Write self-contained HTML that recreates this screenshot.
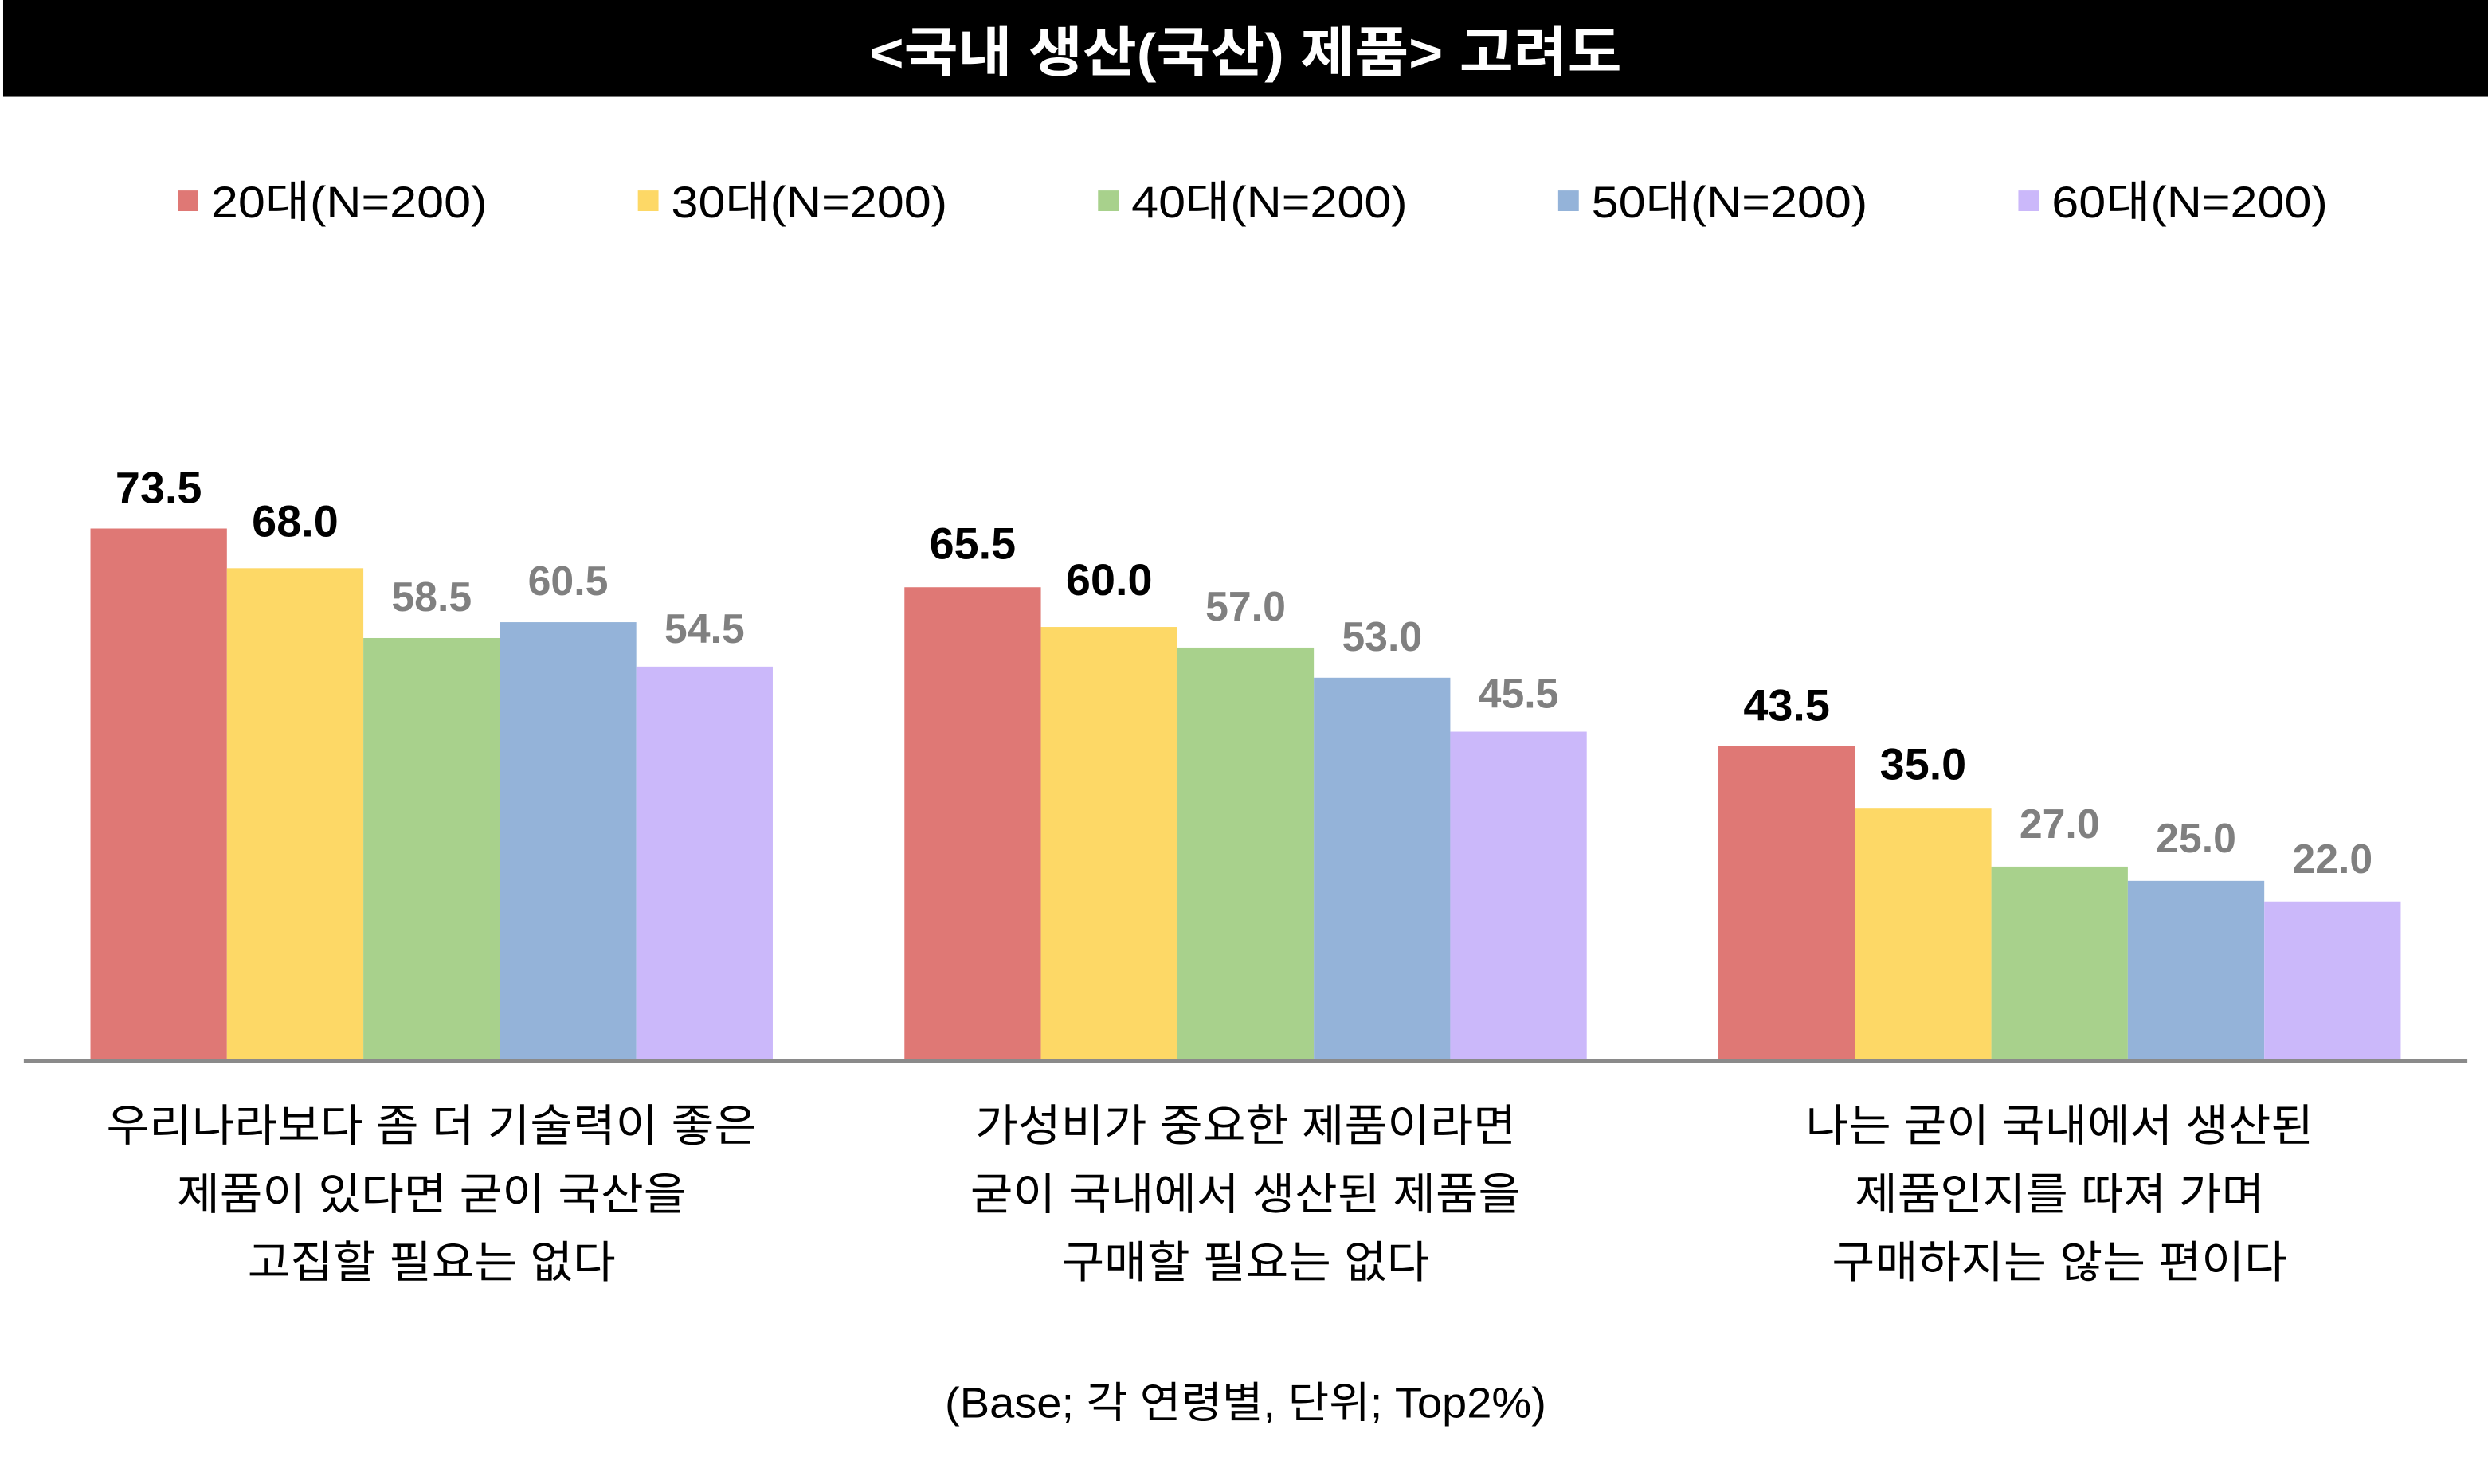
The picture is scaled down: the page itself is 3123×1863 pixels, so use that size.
<!DOCTYPE html>
<html><head><meta charset="utf-8"><style>html,body{margin:0;padding:0;background:#fff}svg{display:block}</style></head>
<body>
<svg width="3123" height="1863" viewBox="0 0 1568 935" preserveAspectRatio="none" xmlns="http://www.w3.org/2000/svg" font-family="'Liberation Sans','Noto Sans CJK KR',sans-serif">
<rect x="2" y="0" width="1566" height="61" fill="#000"/>
<text x="785" y="45" font-size="34" font-weight="bold" fill="#fff" text-anchor="middle" textLength="474" lengthAdjust="spacingAndGlyphs">&lt;국내 생산(국산) 제품&gt; 고려도</text>
<g font-size="28" fill="#000">
<rect x="112" y="120" width="13" height="13" fill="#DF7875"/><text x="133" y="137" textLength="174" lengthAdjust="spacingAndGlyphs">20대(N=200)</text>
<rect x="402" y="120" width="13" height="13" fill="#FDD866"/><text x="423" y="137" textLength="174" lengthAdjust="spacingAndGlyphs">30대(N=200)</text>
<rect x="692" y="120" width="13" height="13" fill="#A8D18C"/><text x="713" y="137" textLength="174" lengthAdjust="spacingAndGlyphs">40대(N=200)</text>
<rect x="982" y="120" width="13" height="13" fill="#94B3D9"/><text x="1003" y="137" textLength="174" lengthAdjust="spacingAndGlyphs">50대(N=200)</text>
<rect x="1272" y="120" width="13" height="13" fill="#CBB8FA"/><text x="1293" y="137" textLength="174" lengthAdjust="spacingAndGlyphs">60대(N=200)</text>
</g>
<g>
<rect x="57" y="333" width="86" height="336" fill="#DF7875"/>
<rect x="143" y="358" width="86" height="311" fill="#FDD866"/>
<rect x="229" y="402" width="86" height="267" fill="#A8D18C"/>
<rect x="315" y="392" width="86" height="277" fill="#94B3D9"/>
<rect x="401" y="420" width="86" height="249" fill="#CBB8FA"/>
<rect x="570" y="370" width="86" height="299" fill="#DF7875"/>
<rect x="656" y="395" width="86" height="274" fill="#FDD866"/>
<rect x="742" y="408" width="86" height="261" fill="#A8D18C"/>
<rect x="828" y="427" width="86" height="242" fill="#94B3D9"/>
<rect x="914" y="461" width="86" height="208" fill="#CBB8FA"/>
<rect x="1083" y="470" width="86" height="199" fill="#DF7875"/>
<rect x="1169" y="509" width="86" height="160" fill="#FDD866"/>
<rect x="1255" y="546" width="86" height="123" fill="#A8D18C"/>
<rect x="1341" y="555" width="86" height="114" fill="#94B3D9"/>
<rect x="1427" y="568" width="86" height="101" fill="#CBB8FA"/>
</g>
<line x1="15" y1="668.5" x2="1555" y2="668.5" stroke="#8a8a8a" stroke-width="2"/>
<g font-size="28" font-weight="bold" text-anchor="middle">
<text x="100" y="317" fill="#000">73.5</text>
<text x="186" y="338" fill="#000">68.0</text>
<text x="272" y="385" fill="#808080" font-size="26">58.5</text>
<text x="358" y="375" fill="#808080" font-size="26">60.5</text>
<text x="444" y="405" fill="#808080" font-size="26">54.5</text>
<text x="613" y="352" fill="#000">65.5</text>
<text x="699" y="375" fill="#000">60.0</text>
<text x="785" y="391" fill="#808080" font-size="26">57.0</text>
<text x="871" y="410" fill="#808080" font-size="26">53.0</text>
<text x="957" y="446" fill="#808080" font-size="26">45.5</text>
<text x="1126" y="454" fill="#000">43.5</text>
<text x="1212" y="491" fill="#000">35.0</text>
<text x="1298" y="528" fill="#808080" font-size="26">27.0</text>
<text x="1384" y="537" fill="#808080" font-size="26">25.0</text>
<text x="1470" y="550" fill="#808080" font-size="26">22.0</text>
</g>
<g font-size="28" fill="#000" text-anchor="middle" lengthAdjust="spacingAndGlyphs">
<text x="272" y="719" textLength="410" lengthAdjust="spacingAndGlyphs">우리나라보다 좀 더 기술력이 좋은</text>
<text x="272" y="762" textLength="321" lengthAdjust="spacingAndGlyphs">제품이 있다면 굳이 국산을</text>
<text x="272" y="805" textLength="232" lengthAdjust="spacingAndGlyphs">고집할 필요는 없다</text>
<text x="785" y="719" textLength="341" lengthAdjust="spacingAndGlyphs">가성비가 중요한 제품이라면</text>
<text x="785" y="762" textLength="347" lengthAdjust="spacingAndGlyphs">굳이 국내에서 생산된 제품을</text>
<text x="785" y="805" textLength="232" lengthAdjust="spacingAndGlyphs">구매할 필요는 없다</text>
<text x="1298" y="719" textLength="320" lengthAdjust="spacingAndGlyphs">나는 굳이 국내에서 생산된</text>
<text x="1298" y="762" textLength="258" lengthAdjust="spacingAndGlyphs">제품인지를 따져 가며</text>
<text x="1298" y="805" textLength="287" lengthAdjust="spacingAndGlyphs">구매하지는 않는 편이다</text>
</g>
<text x="785" y="893" font-size="27" fill="#000" text-anchor="middle" textLength="379" lengthAdjust="spacingAndGlyphs">(Base; 각 연령별, 단위; Top2%)</text>
</svg>
</body></html>
